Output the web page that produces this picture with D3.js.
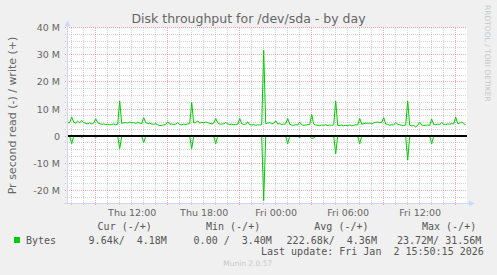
<!DOCTYPE html>
<html>
<head>
<meta charset="utf-8">
<title>Disk throughput for /dev/sda - by day</title>
<script src="https://cdnjs.cloudflare.com/ajax/libs/d3/7.8.5/d3.min.js"></script>
<style>
	body { margin: 0; background: #f0f0f0; }
	svg { display: block; background: #f0f0f0; }
	text { fill: #666; font-family: "DejaVu Sans", sans-serif; }
	.mono { font-family: "DejaVu Sans Mono", monospace; font-size: 10px; white-space: pre; fill: #555; }
	.axis text { font-size: 9.5px; fill: #666; }
	.axis path { display: none; }
</style>
</head>
<body>
<div id="chart"></div>
<script>
	// write (+) in M bytes/s, one sample every 10 minutes from Thu 06:40
	var writeM = [
		4.9, 5.0, 7.0, 5.2, 4.8, 5.5, 4.9, 5.8, 5.0, 4.7, 4.6, 4.9, 4.5, 4.8, 6.4, 5.0, 4.6, 4.4, 4.5, 4.3,
		4.4, 4.2, 4.3, 4.5, 4.2, 4.4, 13.0, 4.7, 4.9, 5.0, 4.8, 5.2, 4.9, 5.0, 4.7, 5.1, 4.8, 4.6, 6.8, 5.0,
		4.6, 4.8, 4.5, 4.4, 4.6, 4.2, 3.9, 4.0, 4.1, 4.3, 5.3, 4.4, 4.5, 4.3, 4.4, 5.0, 4.3, 4.2, 4.4, 4.3,
		4.5, 4.6, 12.4, 4.9, 5.0, 5.6, 4.8, 5.1, 4.9, 5.2, 5.0, 4.7, 4.6, 4.8, 6.5, 4.9, 4.5, 4.4, 4.6, 5.0,
		4.5, 4.3, 4.4, 4.2, 4.3, 4.4, 6.5, 4.6, 4.3, 4.4, 5.3, 4.2, 4.1, 4.3, 4.0, 4.2, 4.1, 4.3, 31.56, 4.6,
		4.8, 5.0, 4.6, 4.7, 5.6, 4.5, 4.6, 4.3, 4.4, 4.5, 6.5, 4.4, 4.1, 4.0, 4.2, 4.1, 5.2, 4.2, 4.0, 4.1,
		4.2, 4.3, 8.0, 4.5, 4.1, 4.0, 3.9, 4.1, 4.0, 4.2, 3.9, 4.1, 4.0, 4.2, 13.0, 4.0, 3.9, 4.1, 3.8, 4.0,
		3.9, 4.1, 3.8, 4.0, 4.2, 4.1, 6.5, 4.4, 4.6, 4.8, 4.7, 4.8, 4.6, 4.9, 5.1, 5.2, 5.0, 5.1, 6.8, 4.5,
		4.3, 4.0, 4.2, 4.1, 5.0, 4.4, 4.2, 4.0, 3.9, 4.1, 13.0, 4.0, 3.8, 3.9, 3.4, 4.0, 5.2, 4.1, 3.9, 4.0,
		4.1, 4.0, 6.3, 4.3, 4.2, 4.4, 4.3, 5.0, 4.4, 4.3, 4.5, 4.4, 4.6, 4.5, 7.0, 4.6, 4.8, 5.2, 4.6, 4.2
	];
	// read (-) in M bytes/s, same samples, drawn below zero
	var readM = [
		0.02, 0.05, 2.8, 0.05, 0.02, 0.03, 0.02, 0.4, 0.02, 0.02, 0.02, 0.02, 0.02, 0.02, 0.4, 0.02, 0.02, 0.02, 0.02, 0.02,
		0.02, 0.02, 0.02, 0.02, 0.02, 0.05, 4.6, 0.05, 0.02, 0.02, 0.02, 0.02, 0.02, 0.02, 0.02, 0.02, 0.02, 0.02, 2.4, 0.02,
		0.02, 0.02, 0.02, 0.02, 0.02, 0.02, 0.02, 0.02, 0.02, 0.02, 0.05, 0.02, 0.02, 0.02, 0.02, 0.02, 0.02, 0.02, 0.02, 0.02,
		0.02, 0.05, 4.6, 0.05, 0.02, 0.02, 0.02, 0.02, 0.02, 0.02, 0.02, 0.02, 0.02, 0.05, 2.8, 0.02, 0.02, 0.02, 0.02, 0.02,
		0.02, 0.02, 0.02, 0.02, 0.02, 0.02, 0.05, 0.02, 0.02, 0.02, 0.02, 0.02, 0.02, 0.02, 0.02, 0.02, 0.02, 0.05, 23.72, 0.05,
		0.02, 0.02, 0.02, 0.02, 0.05, 0.02, 0.02, 0.02, 0.02, 0.05, 2.8, 0.02, 0.02, 0.02, 0.02, 0.02, 0.5, 0.02, 0.02, 0.02,
		0.02, 0.05, 0.8, 0.7, 0.02, 0.02, 0.02, 0.02, 0.02, 0.02, 0.02, 0.02, 0.02, 0.05, 6.5, 0.05, 0.02, 0.02, 0.02, 0.02,
		0.02, 0.02, 0.02, 0.02, 0.02, 0.05, 2.8, 0.02, 0.02, 0.02, 0.02, 0.02, 0.02, 0.02, 0.02, 0.02, 0.02, 0.02, 0.5, 0.02,
		0.02, 0.02, 0.02, 0.02, 0.02, 0.02, 0.02, 0.02, 0.02, 0.05, 8.8, 0.05, 0.02, 0.02, 0.02, 0.02, 0.02, 0.02, 0.02, 0.02,
		0.02, 0.05, 2.8, 0.02, 0.02, 0.02, 0.02, 0.02, 0.02, 0.02, 0.02, 0.02, 0.02, 0.02, 0.02, 0.02, 0.02, 0.02, 0.02, 0.01
	];
	var yTicks = [40, 30, 20, 10, 0, -10, -20];
	var xTickTimes = [Date.UTC(2026, 0, 1, 12), Date.UTC(2026, 0, 1, 18), Date.UTC(2026, 0, 2, 0), Date.UTC(2026, 0, 2, 6), Date.UTC(2026, 0, 2, 12)];
	var xTickLabels = ["Thu 12:00", "Thu 18:00", "Fri 00:00", "Fri 06:00", "Fri 12:00"];
	var legendHeads = ["Cur (-/+)", "Min (-/+)", "Avg (-/+)", "Max (-/+)"];
	var legendVals = ["9.64k/  4.18M", "0.00 /  3.40M", "222.68k/  4.36M", "23.72M/ 31.56M"];

	var W = 497, H = 275,
		startT = Date.UTC(2026, 0, 1, 6, 36, 30),
		endT = Date.UTC(2026, 0, 2, 15, 56, 30),
		firstSample = Date.UTC(2026, 0, 1, 6, 40),
		step = 10 * 60 * 1000;

	var x = d3.scaleUtc().domain([new Date(startT), new Date(endT)]).range([67, 467]);
	var y = d3.scaleLinear().domain([-24.6, 40]).range([203, 27.5]);
	var sampleTime = function (i) { return new Date(firstSample + i * step); };
	var snap = function (v) { return Math.floor(v) + 0.5; };

	var svg = d3.select("#chart").append("svg")
		.attr("width", W)
		.attr("height", H);

	// canvas
	svg.append("rect")
		.attr("x", x.range()[0])
		.attr("y", y(40))
		.attr("width", x.range()[1] - x.range()[0])
		.attr("height", y(-24.6) - y(40))
		.attr("fill", "#fff");

	var minorColor = "rgba(140,140,140,0.38)",
		majorColor = "rgba(210,70,70,0.45)";

	// horizontal grid
	var minorY = d3.range(-22.5, 40, 2.5).filter(function (v) { return v % 10 !== 0; });
	svg.append("g").selectAll("line")
		.data(minorY)
		.enter().append("line")
		.attr("x1", 65).attr("x2", 467)
		.attr("y1", function (d) { return snap(y(d)); })
		.attr("y2", function (d) { return snap(y(d)); })
		.attr("stroke", minorColor)
		.attr("stroke-dasharray", "1,1");

	// vertical grid, hourly minor and 6-hourly major
	var hours = d3.utcHour.range(new Date(startT), new Date(endT));
	svg.append("g").selectAll("line")
		.data(hours.filter(function (d) { return d.getUTCHours() % 6 !== 3; }))
		.enter().append("line")
		.attr("y1", 28).attr("y2", 206)
		.attr("x1", function (d) { return snap(x(d)); })
		.attr("x2", function (d) { return snap(x(d)); })
		.attr("stroke", minorColor)
		.attr("stroke-dasharray", "1,1");

	svg.append("g").selectAll("line")
		.data(yTicks)
		.enter().append("line")
		.attr("x1", 65).attr("x2", 467)
		.attr("y1", function (d) { return snap(y(d)); })
		.attr("y2", function (d) { return snap(y(d)); })
		.attr("stroke", majorColor)
		.attr("stroke-dasharray", "1,1");

	svg.append("g").selectAll("line")
		.data(hours.filter(function (d) { return d.getUTCHours() % 6 === 3; }))
		.enter().append("line")
		.attr("y1", 28).attr("y2", 206)
		.attr("x1", function (d) { return snap(x(d)); })
		.attr("x2", function (d) { return snap(x(d)); })
		.attr("stroke", majorColor)
		.attr("stroke-dasharray", "1,1");

	// series
	var line = d3.line()
		.x(function (d, i) { return x(sampleTime(i)); })
		.y(function (d) { return y(d); });

	svg.append("path")
		.datum(readM.map(function (d) { return -d; }))
		.attr("d", line)
		.attr("fill", "none")
		.attr("stroke", "#00cc00")
		.attr("stroke-width", 1);

	svg.append("path")
		.datum(writeM)
		.attr("d", line)
		.attr("fill", "none")
		.attr("stroke", "#00cc00")
		.attr("stroke-width", 1);

	// zero rule
	svg.append("line")
		.attr("x1", 67).attr("x2", 467)
		.attr("y1", Math.round(y(0))).attr("y2", Math.round(y(0)))
		.attr("stroke", "#000")
		.attr("stroke-width", 2);

	// axes with arrows
	var axisColor = "#cfd6f8";
	svg.append("line")
		.attr("x1", 67.5).attr("x2", 67.5)
		.attr("y1", 203).attr("y2", 25)
		.attr("stroke", axisColor);
	svg.append("path")
		.attr("d", "M64.5,26L70.5,26L67.5,20.5Z")
		.attr("fill", axisColor);
	svg.append("line")
		.attr("x1", 64).attr("x2", 470)
		.attr("y1", 203.5).attr("y2", 203.5)
		.attr("stroke", axisColor);
	svg.append("path")
		.attr("d", "M469,200.5L469,206.5L474.5,203.5Z")
		.attr("fill", axisColor);

	svg.append("g")
		.attr("class", "axis")
		.attr("transform", "translate(67,0)")
		.call(d3.axisLeft(y).tickValues(yTicks).tickSize(0).tickPadding(7)
			.tickFormat(function (d) { return d === 0 ? "0" : d + " M"; }));

	svg.append("g")
		.attr("class", "axis")
		.attr("transform", "translate(0,203)")
		.call(d3.axisBottom(x).tickValues(xTickTimes.map(function (t) { return new Date(t); }))
			.tickSize(0).tickPadding(6.5)
			.tickFormat(function (d, i) { return xTickLabels[i]; }));

	// titles
	svg.append("text")
		.attr("x", 248.5).attr("y", 23)
		.attr("text-anchor", "middle")
		.style("font-size", "12.5px")
		.text("Disk throughput for /dev/sda - by day");

	svg.append("text")
		.attr("transform", "translate(15.5,115.5) rotate(-90)")
		.attr("text-anchor", "middle")
		.style("font-size", "11px")
		.text("Pr second read (-) / write (+)");

	svg.append("text")
		.attr("transform", "translate(485,5) rotate(90)")
		.style("font-size", "7.5px")
		.style("fill", "#c8c8c8")
		.text("RRDTOOL / TOBI OETIKER");

	// legend
	var headX = [97.6, 206, 314.3, 422];
	var valX = [88.6, 193.6, 286.6, 397];
	svg.append("g").selectAll("text")
		.data(legendHeads)
		.enter().append("text")
		.attr("class", "mono")
		.attr("x", function (d, i) { return headX[i]; })
		.attr("y", 230.3)
		.text(function (d) { return d; });

	svg.append("rect")
		.attr("x", 14).attr("y", 237)
		.attr("width", 6).attr("height", 6)
		.attr("fill", "#00cc00");
	svg.append("text")
		.attr("class", "mono")
		.attr("x", 26).attr("y", 243.6)
		.text("Bytes");
	svg.append("g").selectAll("text")
		.data(legendVals)
		.enter().append("text")
		.attr("class", "mono")
		.attr("x", function (d, i) { return valX[i]; })
		.attr("y", 243.6)
		.text(function (d) { return d; });

	svg.append("text")
		.attr("class", "mono")
		.attr("x", 261).attr("y", 255.3)
		.text("Last update: Fri Jan  2 15:50:15 2026");

	svg.append("text")
		.attr("x", 247.7).attr("y", 265.7)
		.attr("text-anchor", "middle")
		.style("font-size", "7.5px")
		.style("fill", "#c8c8c8")
		.text("Munin 2.0.57");
</script>
</body>
</html>
